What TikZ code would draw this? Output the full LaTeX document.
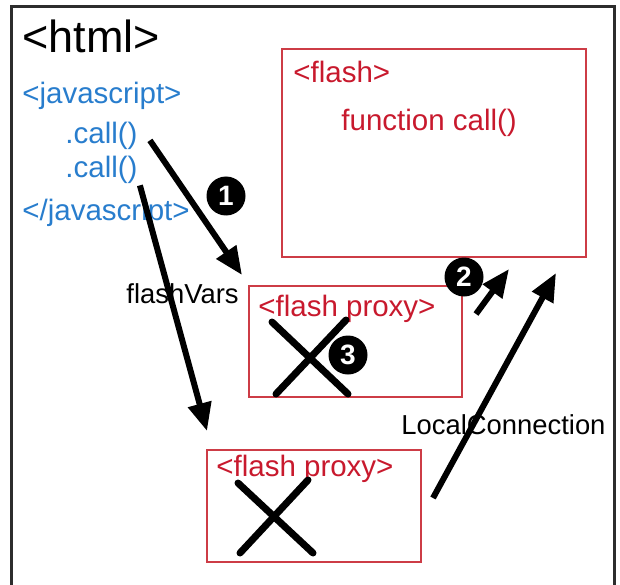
\documentclass[tikz,border=0pt]{standalone}
\usepackage{fontspec}
\setmainfont{Liberation Sans}
\usetikzlibrary{arrows.meta,positioning}
\definecolor{jsblue}{RGB}{40,125,205}
\definecolor{flashred}{RGB}{200,25,45}
\definecolor{boxred}{RGB}{205,60,70}
\definecolor{framegray}{RGB}{45,45,45}

\begin{document}
\begin{tikzpicture}[x=1pt, y=-1pt, thick, node distance={4pt},
  txt/.style = {inner sep=0pt, anchor=base west},
  jstxt/.style = {txt, text=jsblue, font=\fontsize{29.5}{30}\selectfont},
  fltxt/.style = {txt, text=flashred, font=\fontsize{29.5}{30}\selectfont},
  lbl/.style = {txt, font=\fontsize{27.4}{28}\selectfont},
  box/.style = {draw=boxred, line width=2pt, rectangle, inner sep=0pt},
  num/.style = {circle, fill=black, text=white, inner sep=0pt, minimum size=39pt, font=\bfseries\fontsize{28}{28}\selectfont},
  push/.style = {line width=6pt, -{Triangle[length=28pt,width=23pt]}},
  cross/.style = {line width=7pt, line cap=round}]
\useasboundingbox (0,0) rectangle (620,585);
\draw[framegray, line width=3pt] (11,590) -- (11,7) -- (614,7) -- (614,590);

% html side
\node[txt, font=\fontsize{45}{45}\selectfont] (html) at (22,53) {<html>};
\node[jstxt] (js) at (22,104) {<javascript>};
\node[jstxt] (c1) at (65,144) {.call()};
\node[jstxt] (c2) at (65,178) {.call()};
\node[jstxt] (jsend) at (22,220) {</javascript>};

% flash boxes
\node[box, minimum width=304pt, minimum height=208pt] (flash) at (434,153) {};
\node[fltxt] (fl) at (293,83) {<flash>};
\node[fltxt] (fn) at (341,131) {function call()};
\node[box, minimum width=213pt, minimum height=111pt] (proxy1) at (355.5,341.5) {};
\node[fltxt] (p1) at (258,316) {<flash proxy>};
\node[box, minimum width=214pt, minimum height=112pt] (proxy2) at (314,506) {};
\node[fltxt] (p2) at (216,476) {<flash proxy>};

% labels and steps
\node[lbl] (vars) at (126,303) {flashVars};
\node[lbl] (lc) at (401,434) {LocalConnection};
\node[num] (n1) at (226,196) {1};
\node[num] (n2) at (464,277) {2};
\node[num] (n3) at (348,355) {3};

% arrows
\draw[push] ([xshift=12pt,yshift=-4pt]c1.east) -- ([xshift=-6pt,yshift=10pt]proxy1.north west);
\draw[push] ([xshift=2pt,yshift=-15pt]c2.east) -- ([xshift=1pt,yshift=18pt]proxy2.north west);
\draw[push] ([xshift=13pt,yshift=-29pt]proxy1.north east) -- ([xshift=-78pt,yshift=-11pt]flash.south east);
\draw[push] ([xshift=11pt,yshift=8pt]proxy2.east) -- ([xshift=-31pt,yshift=-15pt]flash.south east);

% crossed out proxies
\draw[cross] (272,322) -- (348,394);
\draw[cross] (276,394) -- (346,320);
\draw[cross] (238,483) -- (313,553);
\draw[cross] (240,553) -- (308,480);
\end{tikzpicture}
\end{document}
